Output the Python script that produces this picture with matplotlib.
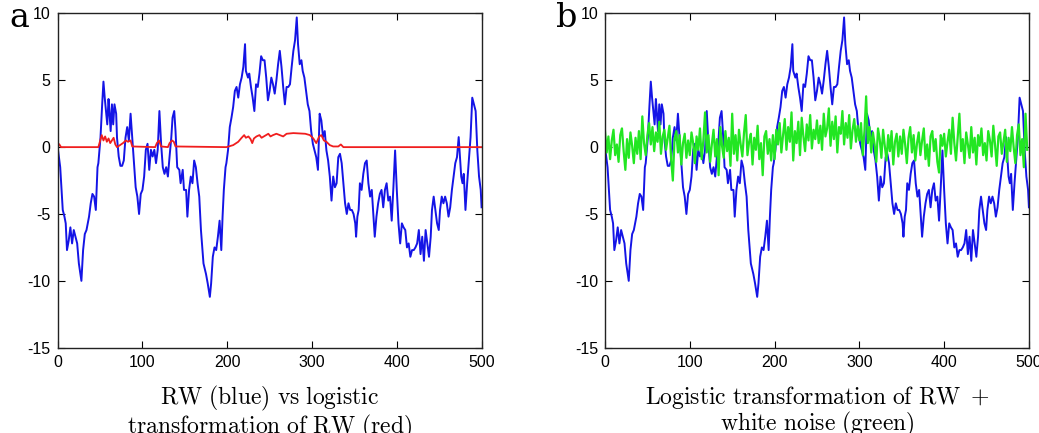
import matplotlib
matplotlib.use("Agg")
import matplotlib.pyplot as plt

plt.rcParams['mathtext.fontset'] = 'cm'
plt.rcParams['axes.unicode_minus'] = False

# random walk (blue)
rw_x = [0, 3, 6, 8, 9.5, 11, 13, 15, 17, 19, 21, 23, 25, 28, 30, 32, 34, 37, 39, 41,
        43, 45, 47, 48, 50.5, 52.5, 54, 55.5, 57, 58.5, 60, 61, 62.5, 64, 65.5, 67, 69, 70, 72, 74,
        76, 78, 80, 82, 84, 86, 88, 90, 92, 94, 96, 98, 100, 102, 104, 106, 108, 110, 112, 114,
        116, 118, 120, 122, 124, 126, 128, 130, 132, 134, 135.5, 137.5, 139, 141, 143.5, 145, 147.5, 149, 151.5, 153,
        155, 157, 159, 161, 163, 165, 167, 169, 172, 175, 177, 179.5, 181, 183, 185, 187, 189, 191, 193, 194.5,
        196, 198, 199, 201, 203, 205, 207, 209, 211, 213, 215, 217, 219, 221, 222, 224.5, 226, 228, 230, 232,
        234, 236, 238, 240, 242, 244, 246, 248, 250, 252, 254, 256, 258, 260, 262, 264, 266, 268, 270, 272,
        274, 276, 278, 280, 282, 283.5, 285.5, 287.5, 289, 291, 293, 295, 297, 299, 301, 303, 305, 307, 309, 311,
        313, 315, 317, 319, 321, 323, 325, 327, 329, 331, 333, 335, 337, 339, 341, 343, 345, 347, 349, 351,
        352, 353.5, 355, 356.5, 358.5, 360.5, 362.5, 364.5, 366.5, 368.5, 370.5, 372, 374, 376, 378, 380, 382, 384, 386, 388,
        390, 392, 394, 396, 398, 400, 402, 404, 406, 408, 410, 412, 414, 416, 418, 420, 422, 424, 426, 428,
        430, 432, 434, 436, 438, 440, 441.5, 443.5, 445.5, 447.5, 449.5, 451, 453, 455, 457, 459, 461, 463, 465, 467,
        469, 471, 473, 474, 476, 477.5, 479, 481, 483, 485, 487, 489, 491, 493, 495, 497, 499, 500]
rw_y = [0, -1.5, -4.7, -5.2, -5.7, -7.7, -7, -6, -7.2, -6.2, -6.7, -7.2, -8.7, -10, -7.7, -6.5, -6.2, -5.2, -4.2, -3.5,
        -3.7, -4.7, -1.5, -1.2, 0.7, 3.2, 4.9, 3.7, 2.7, 1.7, 3.6, 2.7, 1.2, 3.2, 1.7, 3.2, 2.5, 0.7, -0.7, -1.4,
        -1.4, -1.0, 0.7, 1.5, 0.5, 2.5, 0.7, -1.2, -3, -3.7, -5, -3.5, -3.2, -2.2, -0.2, 0.25, -1.7, -0.2, -0.7, -0.2,
        -1.2, -0.2, 2.7, 0.25, -1.5, -2, -1.5, -2.2, -0.7, 0.7, 2.2, 2.7, 1.2, -1.5, -1.7, -2.7, -1.7, -3.2, -3.2, -5.2,
        -3.2, -2.2, -2.7, -1, -1.5, -2.7, -3.7, -6.2, -8.7, -9.5, -10.2, -11.2, -10.2, -8.2, -7.5, -7.7, -6.7, -5.5, -7.7, -5.2,
        -3.2, -1.5, -1.2, -0.2, 1.5, 2.2, 3, 4.2, 4.5, 3.7, 4.7, 5.2, 6, 7.7, 5.7, 5.2, 5.5, 4.5, 3.7, 2.7,
        4.7, 4.5, 5.5, 6.8, 6.5, 6.5, 5.2, 3.5, 4.2, 5.2, 4.7, 4, 5, 6.2, 7.2, 6, 4.5, 3.2, 4.5, 4.5,
        4.7, 6, 7.2, 8, 9.7, 7.7, 6.2, 6.5, 5.7, 5.2, 4.2, 3.2, 2.7, 1.2, 0.25, -0.25, -0.75, -1.7, 2.5, 2,
        0.75, 1.2, -0.25, -1, -2.2, -4, -2.2, -3, -2.7, -0.75, -0.5, -1.2, -2.7, -4.2, -5, -4.2, -4.7, -4.7, -5, -5.7,
        -6.7, -5.2, -4.7, -2.7, -3.2, -2, -1.2, -1, -2.7, -3.7, -3.2, -4.7, -6.7, -5.2, -4.2, -3.5, -3.2, -4.5, -3.2, -2.7,
        -4, -3.7, -5.5, -3, -0.25, -3.2, -5.7, -7.2, -5.7, -6, -6.2, -7.5, -7.2, -8.2, -7.7, -7.7, -7.5, -7.2, -6.2, -8,
        -6.7, -8.5, -6.2, -7.2, -8.2, -6.7, -4.7, -3.7, -4.7, -5.7, -6.2, -4.7, -3.7, -4.2, -3.7, -4.2, -5.2, -4.5, -3.2, -2.2,
        -1.2, -0.75, 0.75, -0.25, -2.2, -2.7, -2, -4.7, -2.7, -1, 0.75, 3.7, 3.2, 2.7, -0.25, -2.2, -3.2, -4.5]

# logistic transformation of RW (red)
red_x = [0, 2, 4, 48, 52, 54, 56, 58, 60, 62, 66, 68, 70, 77, 80.5, 83, 86, 88, 115, 117, 119.5, 122, 130, 132,
         135, 137, 139, 199, 207, 213, 217, 220, 222, 225, 227.5, 229.5, 231.5, 234.5, 238, 240.5, 244.5, 248.5,
         251, 254, 258, 262, 266, 270, 278, 292, 297.5, 301.5, 305, 308.5, 311, 314, 317, 321, 325, 331, 334, 337, 500]
red_y = [0.3, 0.2, 0.0, 0.0, 0.9, 0.5, 0.8, 0.4, 0.65, 0.3, 0.7, 0.2, 0.0, 0.3, 0.5, 0.4, 0.5, 0.05, 0.0, 0.3, 0.5, 0.05, 0.0, 0.3,
         0.5, 0.4, 0.05, 0.0, 0.15, 0.4, 0.7, 0.9, 0.7, 0.8, 0.6, 0.3, 0.65, 0.8, 0.9, 0.7, 0.85, 1.0,
         0.8, 0.9, 1.0, 0.9, 0.8, 1.0, 1.05, 1.0, 0.9, 0.65, 0.3, 0.8, 0.9, 0.5, 0.4, 0.15, 0.05, 0.05, 0.2, 0.0, 0.0]

# logistic transformation + white noise (green), every 2nd step
green_y = [
    1.2, -0.4, 0.8, -0.9, 0.5, 1.3, -0.6, 0.2, -1.1, 0.9, 1.4, -0.3, -1.7, 0.6, -0.8, 1.1, 0.1, -1.2, 0.7, -0.5, 1.2, -0.9, 2.3, 0.3, -0.6,
    0.9, 1.8, 0.2, 1.5, -0.3, 1.1, 0.4, 1.9, -0.5, 0.8, 1.3, -0.2, 0.7, 1.6, -0.9, -2.5, 0.6, 1.2, -0.4, 0.9, -1.3, 0.3, 1.0, -0.8, 0.5,
    -0.6, 1.1, 0.3, -1.2, 0.8, -0.2, 1.4, -0.9, 0.5, 2.6, -0.4, 0.9, -1.1, 0.2, 1.3, -0.7, 0.6, -2.1, 1.5, 0.1, -0.8, 1.2, -0.3, 0.7, -1.4,
    2.5, -0.5, 0.9, -1.0, 1.3, 0.2, -0.7, 1.1, 2.4, -0.6, 0.4, 1.0, -1.3, 0.7, -0.2, 1.6, -0.9, 0.3, -2.1, 0.8, 1.2, -0.5, 0.6, -1.0, 0.9,
    -0.9, 1.3, 0.2, 1.8, -0.4, 0.9, 2.1, -0.2, 1.5, 0.4, 2.6, -1.0, 1.2, 0.3, 1.9, -0.6, 2.2, 0.8, -0.3, 1.7, 0.5, 2.4, -0.1, 1.3, 0.6,
    2.0, 0.3, 1.6, -0.2, 2.5, 0.8, 1.4, 2.9, 0.1, 1.9, 0.6, 2.3, -0.4, 1.5, 1.0, 2.7, 0.2, 1.8, 0.7, 2.4, -0.1, 1.3, 2.1, 0.4, 1.6,
    0.5, 1.8, -0.6, 1.2, 3.8, 0.3, 1.5, -0.4, 1.1, 0.2, -1.1, 1.4, 0.6, -0.8, 1.3, 0.1, -1.0, 0.9, -0.3, 1.2, -1.3, 0.4, 1.0, -0.7, 0.8,
    -0.5, 1.3, 0.2, -1.2, 0.7, 1.5, -0.4, 0.9, -1.0, 0.3, 1.1, -0.6, 0.5, 1.4, -0.9, 0.2, -1.4, 0.8, 1.2, -0.3, 0.6, -1.1, -1.9, 0.9, 0.1,
    1.0, -0.7, 0.4, 1.3, -0.5, 2.2, 0.3, -1.0, 0.8, 2.5, -0.3, 0.6, -1.2, 1.1, 0.2, -0.8, 1.5, -0.4, 0.7, -1.3, 0.9, 0.1, 1.4, -0.6, 0.3,
    -1.0, 1.2, 0.5, -0.7, 1.6, 0.2, -1.4, 0.8, 1.1, -0.5, 0.4, 1.3, -1.1, 0.7, -0.3, 1.5, 0.0, -1.2, 0.9, 1.7, -0.6, 0.6, -1.5, 2.5, -0.2,
]
green_x = list(range(0, 500, 2))

xticks = [0, 100, 200, 300, 400, 500]
yticks = [-15, -10, -5, 0, 5, 10]

captions = [r'$\mathrm{RW\ (blue)\ vs\ logistic}$' + '\n' + r'$\mathrm{transformation\ of\ RW\ (red)}$',
            r'$\mathrm{Logistic\ transformation\ of\ RW\ +}$' + '\n' + r'$\mathrm{white\ noise\ (green)}$']
letters = ['a', 'b']

BLUE = '#1414e6'
RED = '#f01e1e'
GREEN = '#22e622'

fig = plt.figure(figsize=(10.39, 4.33), dpi=100)
ax_a = fig.add_axes([0.0555, 0.197, 0.408, 0.772])
ax_b = fig.add_axes([0.5823, 0.197, 0.408, 0.772])

ax_a.plot(rw_x, rw_y, color=BLUE, lw=1.4)
ax_a.plot(red_x, red_y, color=RED, lw=1.3)

ax_b.plot(rw_x, rw_y, color=BLUE, lw=1.4)
ax_b.plot(green_x, green_y, color=GREEN, lw=1.6)

for ax, cap, let in zip([ax_a, ax_b], captions, letters):
    ax.set_xlim(0, 500)
    ax.set_ylim(-15, 10)
    ax.set_xticks(xticks)
    ax.set_yticks(yticks)
    ax.tick_params(direction='in', top=True, right=True, length=5, width=0.8,
                   labelsize=11.5, pad=5)
    for lab in ax.get_xticklabels() + ax.get_yticklabels():
        lab.set_family('Liberation Sans')
    for sp in ax.spines.values():
        sp.set_linewidth(1.0)
        sp.set_color('#222222')
    ax.text(0.5, -0.108, cap, transform=ax.transAxes, ha='center', va='top',
            fontsize=17, linespacing=0.98)
    ax.text(-0.115, 0.985, let, transform=ax.transAxes, ha='left', va='center',
            fontsize=24, family='DejaVu Serif')

fig.savefig('out.png', dpi=100)
